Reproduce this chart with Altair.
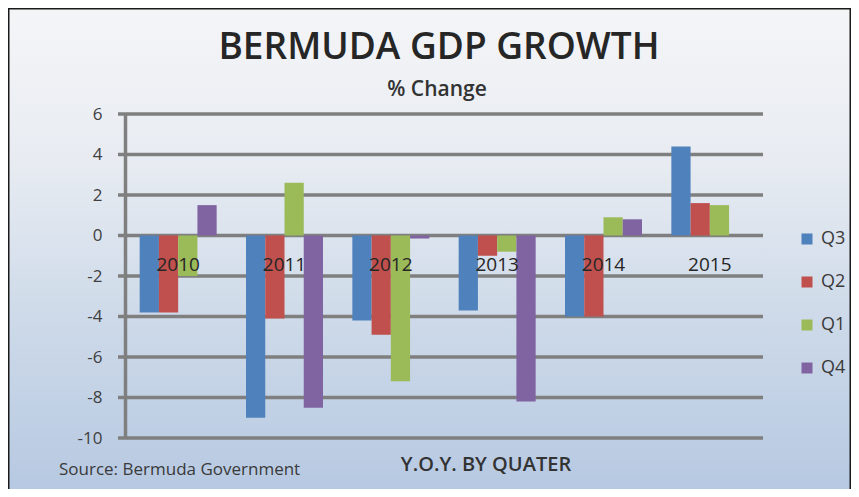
import altair as alt
import pandas as pd

years = ["2010", "2011", "2012", "2013", "2014", "2015"]
quarters = ["Q3", "Q2", "Q1", "Q4"]
q3 = [-3.8, -9.0, -4.2, -3.7, -4.0, 4.4]
q2 = [-3.8, -4.1, -4.9, -1.0, -4.0, 1.6]
q1 = [-2.0, 2.6, -7.2, -0.8, 0.9, 1.5]
q4 = [1.5, -8.5, -0.15, -8.2, 0.8, None]
y_ticks = [-10, -8, -6, -4, -2, 0, 2, 4, 6]
colors = ["#4F81BD", "#C0504D", "#9BBB59", "#8064A2"]

rows = []
for q, vals in zip(quarters, [q3, q2, q1, q4]):
    for yr, v in zip(years, vals):
        if v is not None:
            rows.append({"year": yr, "quarter": q, "value": v})
df = pd.DataFrame(rows)
grid_df = pd.DataFrame({"v": y_ticks})

W, H = 638, 324
PL, PT = 117, 106
TOTW, TOTH = 843, 481

FONT = "Open Sans"
GRID = "#7f7f7f"

yscale = alt.Scale(domain=[-10, 6], nice=False, zero=False)
yaxis = alt.Axis(values=y_ticks, title=None, grid=False, ticks=False, tickSize=0,
                 domain=True, domainColor=GRID, domainWidth=3.5,
                 labelExpr="'' + datum.value",
                 labelFont=FONT, labelFontSize=17, labelColor="#404040",
                 labelPadding=23, zindex=1)

bg = alt.Chart(pd.DataFrame({"a": [0]})).mark_rect(
    fill=alt.LinearGradient(
        gradient="linear",
        stops=[alt.GradientStop(color="#f4f5f7", offset=0),
               alt.GradientStop(color="#e8ecf2", offset=0.3),
               alt.GradientStop(color="#cbd8e8", offset=0.65),
               alt.GradientStop(color="#b4c7e1", offset=1)],
        x1=0, x2=0, y1=0, y2=1),
    stroke="#1a1a1a", strokeWidth=1.5,
).encode(x=alt.value(-PL + 0.75), x2=alt.value(TOTW - PL - 0.75),
         y=alt.value(-PT + 0.75), y2=alt.value(TOTH - PT + 20))

grid = alt.Chart(grid_df).mark_rule(color=GRID, strokeWidth=3.5).encode(
    y=alt.Y("v:Q", scale=yscale, axis=yaxis),
    x=alt.value(-7), x2=alt.value(W),
)

bars = alt.Chart(df).mark_bar(strokeWidth=0).encode(
    x=alt.X("year:N", sort=years,
            scale=alt.Scale(paddingInner=0.276, paddingOuter=0.138),
            axis=alt.Axis(title=None, labelAngle=0, domain=False, ticks=False, tickSize=0,
                          labelFont=FONT, labelFontSize=19, labelColor="#262626",
                          labelPadding=29, labelBaseline="middle",
                          offset=-(H - 121), zindex=1)),
    xOffset=alt.XOffset("quarter:N", scale=alt.Scale(domain=quarters, paddingInner=0, paddingOuter=0)),
    y=alt.Y("value:Q", scale=yscale, axis=yaxis),
    color=alt.Color("quarter:N", scale=alt.Scale(domain=quarters, range=colors),
                    legend=alt.Legend(title=None, orient="none", legendX=673, legendY=116,
                                      symbolType="square", symbolSize=121, symbolStrokeWidth=0,
                                      labelFont=FONT, labelFontSize=18, labelColor="#3a3a3a",
                                      labelOffset=5, rowPadding=25, padding=0)),
)

def txt(s, x, y, size, weight="normal", align="center", color="#262626"):
    return alt.Chart(pd.DataFrame({"t": [s]})).mark_text(
        font=FONT, fontSize=size, fontWeight=weight, align=align,
        baseline="alphabetic", color=color,
    ).encode(text="t:N", x=alt.value(x), y=alt.value(y))

title = txt("BERMUDA GDP GROWTH", 314, -55, 37, 600)
sub = txt("% Change", 312, -18, 21, 600, color="#333333")
xt = txt("Y.O.Y. BY QUATER", 361, 357, 20, 600, color="#333333")
src = txt("Source: Bermuda Government", -66, 361, 17, "normal", align="left", color="#3a3a3a")

chart = alt.layer(bg, grid, bars, title, sub, xt, src).properties(
    width=W, height=H,
    autosize=alt.AutoSizeParams(type="none"),
    padding={"left": PL, "top": PT, "right": TOTW - PL - W, "bottom": TOTH - PT - H},
    background="white",
).configure_view(strokeWidth=0)

chart.save("out.html", embed_options={"renderer": "svg", "actions": False})
